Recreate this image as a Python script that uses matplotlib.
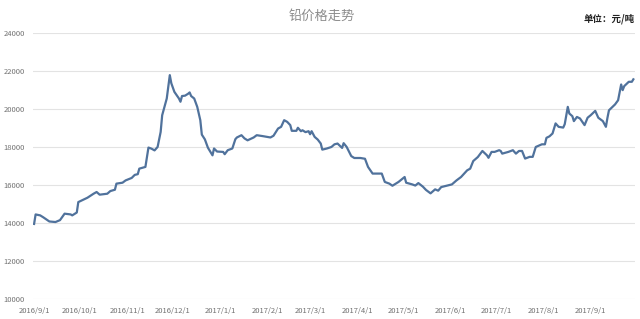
import numpy as np
import pandas as pd
import matplotlib

matplotlib.use("Agg")
import matplotlib.pyplot as plt

plt.rcParams['font.family'] = ['Noto Sans CJK SC', 'DejaVu Sans']

# ========= 数据 =========
start_date = "2016-09-01"
# 距 2016/9/1 的天数
day_offsets = [
    0, 1, 4, 6, 10, 14, 17, 20, 24, 25, 28, 29, 35, 39, 41, 43, 48, 50, 53, 54,
    58, 60, 64, 66, 68, 69, 73, 75, 77, 79, 81, 83, 84, 87, 89, 90, 92, 95, 96, 97,
    99, 101, 102, 103, 105, 107, 109, 110, 112, 114, 117, 118, 120, 124, 125, 127, 130, 132, 133, 136,
    138, 140, 144, 146, 150, 155, 157, 160, 162, 164, 166, 168, 169, 172, 173, 175, 176, 178, 180, 181,
    182, 184, 186, 188, 189, 192, 195, 197, 199, 202, 203, 205, 208, 210, 214, 217, 219, 222, 228, 230,
    233, 235, 239, 243, 244, 248, 250, 252, 255, 257, 260, 263, 265, 267, 270, 274, 277, 280, 284, 286,
    288, 291, 294, 297, 298, 300, 302, 305, 306, 307, 311, 314, 316, 318, 320, 322, 325, 327, 329, 333,
    335, 336, 338, 340, 342, 344, 347, 348, 350, 351, 353, 354, 356, 358, 361, 363, 365, 368, 370, 373,
    375, 376, 377, 381, 383, 385, 386, 387, 390, 392, 393,
]
prices = [
    13950, 14450, 14400, 14300, 14080, 14050, 14150, 14490, 14450, 14400, 14550, 15100, 15330, 15540, 15630, 15490, 15540, 15680, 15750, 16070,
    16120, 16240, 16370, 16530, 16570, 16860, 16950, 17970, 17910, 17820, 18000, 18790, 19670, 20550, 21780, 21350, 20900, 20550, 20380, 20680,
    20700, 20800, 20870, 20680, 20550, 20110, 19410, 18650, 18400, 17960, 17560, 17920, 17760, 17740, 17620, 17830, 17920, 18410, 18500, 18620,
    18450, 18350, 18500, 18620, 18570, 18500, 18590, 18970, 19060, 19410, 19320, 19150, 18850, 18850, 19010, 18830, 18880, 18780, 18830, 18670,
    18830, 18530, 18390, 18180, 17860, 17920, 18000, 18140, 18180, 17950, 18200, 18000, 17520, 17420, 17420, 17380, 16950, 16600, 16600, 16160,
    16070, 15960, 16160, 16420, 16120, 16030, 15970, 16100, 15910, 15740, 15560, 15770, 15700, 15890, 15950, 16030, 16240, 16420, 16770, 16860,
    17260, 17470, 17790, 17560, 17430, 17740, 17740, 17830, 17790, 17650, 17740, 17830, 17650, 17790, 17790, 17390, 17480, 17480, 18000, 18140,
    18140, 18480, 18560, 18710, 19240, 19060, 19020, 19200, 20110, 19760, 19620, 19360, 19580, 19500, 19150, 19540, 19670, 19900, 19540, 19360,
    19060, 19530, 19930, 20240, 20460, 21290, 20990, 21200, 21430, 21430, 21560,
]
y_ticks = [10000, 12000, 14000, 16000, 18000, 20000, 22000, 24000]
title = "铅价格走势"
unit_text = "单位：元/吨"

dates = pd.Timestamp(start_date) + pd.to_timedelta(day_offsets, unit="D")
month_ticks = pd.date_range("2016-09-01", "2017-09-01", freq="MS")

fig = plt.figure(figsize=(6.4, 3.19), dpi=100)
ax = fig.add_axes([0.0516, 0.0627, 0.9404, 0.834])

ax.plot(dates, prices, color="#50729c", linewidth=1.6, solid_joinstyle="round")

ax.set_ylim(10000, 24000)
ax.set_yticks(y_ticks)
ax.set_yticklabels([str(v) for v in y_ticks])
ax.set_xlim(pd.Timestamp(start_date) - pd.Timedelta(days=0.7), pd.Timestamp(start_date) + pd.Timedelta(days=394))
ax.set_xticks(month_ticks)
ax.set_xticklabels([f"{d.year}/{d.month}/{d.day}" for d in month_ticks])

ax.grid(axis="y", color="#e3e3e3", linewidth=0.8)
ax.set_axisbelow(True)
for side in ["top", "right", "left", "bottom"]:
    ax.spines[side].set_visible(False)
ax.tick_params(axis="both", length=0, labelsize=5.5, labelcolor="#727272")
ax.tick_params(axis="x", pad=6)
ax.tick_params(axis="y", pad=6)

fig.text(0.503, 0.948, title, ha="center", va="center", fontsize=9.5, color="#8c8c8c")
fig.text(0.992, 0.94, unit_text, ha="right", va="center", fontsize=6.8, color="#222222",
         fontweight="bold")

plt.savefig("out.png", dpi=100)
plt.close()
